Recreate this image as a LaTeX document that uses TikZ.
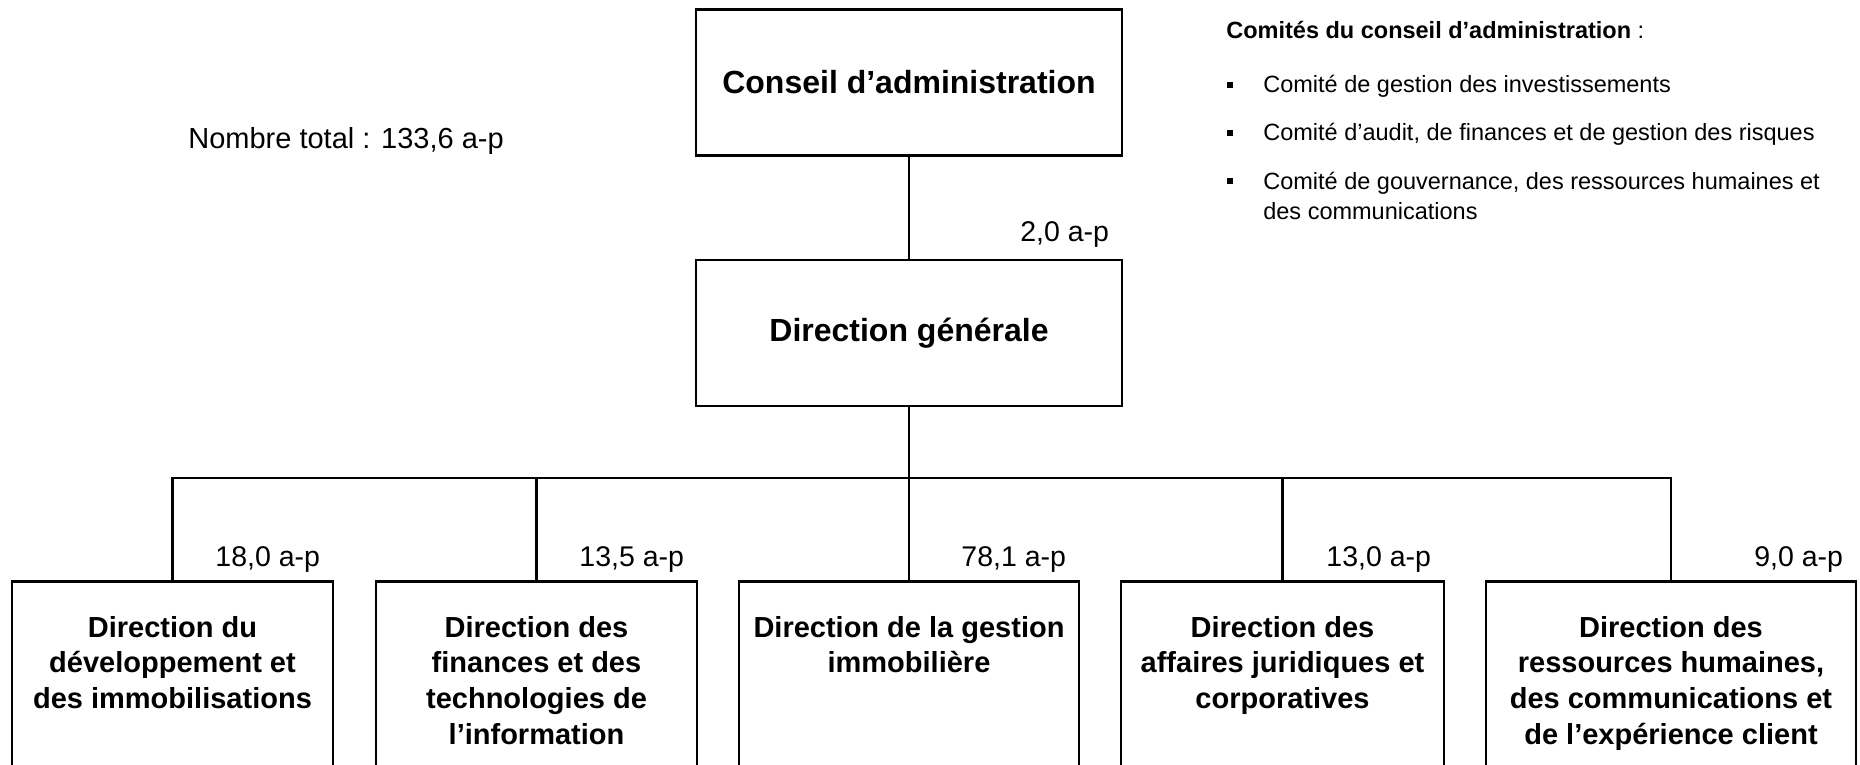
\documentclass[tikz,border=0pt]{standalone}
\usepackage{fontspec}
\setmainfont{Liberation Sans}
\newcommand\btxt[2]{\parbox[t]{#1}{\centering\fontsize{29}{35.6}\selectfont\bfseries #2}}
\begin{document}
\begin{tikzpicture}[x=1pt,y=-1pt,
  line width=2.7pt,
  topbox/.style={draw, minimum width=426pt, minimum height=146pt, inner sep=0pt,
    font=\fontsize{32}{38}\selectfont\bfseries},
  botbox/.style={draw, anchor=north, inner sep=0pt, text height=56pt, text depth=160pt},
  lab/.style={inner sep=0pt, anchor=base east, font=\fontsize{28.5}{34}\selectfont},
  comtxt/.style={inner sep=0pt, anchor=base west, font=\fontsize{23.5}{30}\selectfont},
  bul/.style={fill=black, inner sep=0pt, minimum size=6pt, draw=none}
]
\useasboundingbox (0,0) rectangle (1860,765);
\clip (0,0) rectangle (1860,765);

% top boxes
\node[topbox] (ca) at (909,82.5) {Conseil d’administration};
\node[topbox] (dg) at (909,333) {Direction générale};

% bottom boxes
\node[botbox] (b1) at (172.5,580) {\btxt{321pt}{Direction du\\développement et\\des immobilisations}};
\node[botbox] (b2) at (536.5,580) {\btxt{321pt}{Direction des\\finances et des\\technologies de\\l’information}};
\node[botbox] (b3) at (909,580) {\btxt{340pt}{Direction de la gestion\\immobilière}};
\node[botbox] (b4) at (1282.5,580) {\btxt{323pt}{Direction des\\affaires juridiques et\\corporatives}};
\node[botbox] (b5) at (1671,580) {\btxt{370pt}{Direction des\\ressources humaines,\\des communications et\\de l’expérience client}};

% connectors
\coordinate (bus) at (909,478);
\draw (ca.south) -- (dg.north);
\draw (dg.south) -- (bus);
\foreach \b in {b1,b2,b3,b4,b5} \draw (bus) -| (\b.north);

% labels
\node[lab] (l0) at ([xshift=-13pt,yshift=17pt]dg.north east) {2,0 a-p};
\node[lab] (l1) at ([xshift=-13pt,yshift=14pt]b1.north east) {18,0 a-p};
\node[lab] (l2) at ([xshift=-13pt,yshift=14pt]b2.north east) {13,5 a-p};
\node[lab] (l3) at ([xshift=-13pt,yshift=14pt]b3.north east) {78,1 a-p};
\node[lab] (l4) at ([xshift=-13pt,yshift=14pt]b4.north east) {13,0 a-p};
\node[lab] (l5) at ([xshift=-13pt,yshift=14pt]b5.north east) {9,0 a-p};

\node[inner sep=0pt, anchor=base west, font=\fontsize{29}{34}\selectfont] (tot) at (187,148) {Nombre total : 133,6 a-p};

% committees
\node[comtxt] (ct) at (1225,39) {\textbf{Comités du conseil d’administration} :};
\node[comtxt] (c1) at (1262,93) {Comité de gestion des investissements};
\node[comtxt] (c2) at (1262,141) {Comité d’audit, de finances et de gestion des risques};
\node[comtxt] (c3) at (1262,189) {\parbox[t]{600pt}{\raggedright Comité de gouvernance, des ressources humaines et\\des communications}};
\node[bul] (p1) at (1230,85) {};
\node[bul] (p2) at (1230,133) {};
\node[bul] (p3) at (1230,181) {};
\end{tikzpicture}
\end{document}
